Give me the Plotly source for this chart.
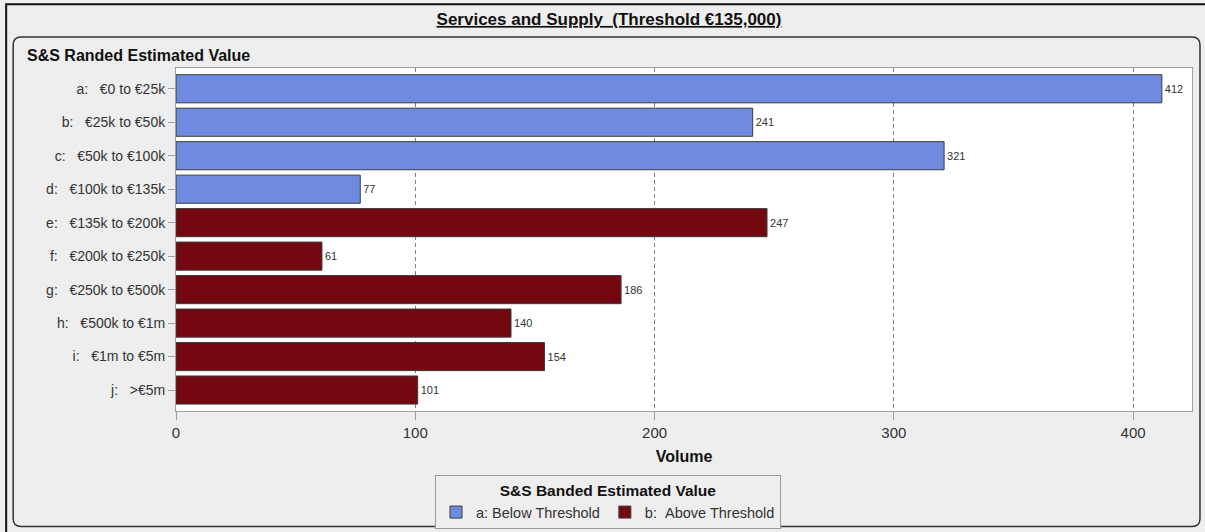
import plotly.graph_objects as go

NB = "\u00a0"
SP = NB * 3
below_cats = [f"a:{SP}€0 to €25k", f"b:{SP}€25k to €50k", f"c:{SP}€50k to €100k", f"d:{SP}€100k to €135k"]
below_vals = [412, 241, 321, 77]
above_cats = [f"e:{SP}€135k to €200k", f"f:{SP}€200k to €250k", f"g:{SP}€250k to €500k",
              f"h:{SP}€500k to €1m", f"i:{SP}€1m to €5m", f"j:{SP}>€5m"]
above_vals = [247, 61, 186, 140, 154, 101]
x_ticks = [0, 100, 200, 300, 400]

W, H = 1205, 532
L, R, T, B = 176, 1193, 68, 412

def px(p):
    return (p - L) / (R - L)

def py(p):
    return (B - p) / (B - T)

FONT = "Liberation Sans, Arial, sans-serif"

fig = go.Figure()
fig.add_trace(go.Bar(
    y=below_cats, x=below_vals, orientation="h", name="a: Below Threshold",
    marker=dict(color="#6E8BDF", line=dict(color="#3c3c3c", width=1)),
    width=0.84, text=below_vals, textposition="outside",
    textfont=dict(size=11, color="#333333", family=FONT), cliponaxis=False,
))
fig.add_trace(go.Bar(
    y=above_cats, x=above_vals, orientation="h", name=f"b:{NB}{NB}Above Threshold",
    marker=dict(color="#740811", line=dict(color="#3c3c3c", width=1)),
    width=0.84, text=above_vals, textposition="outside",
    textfont=dict(size=11, color="#333333", family=FONT), cliponaxis=False,
))

# rounded inner panel
x0, x1, y0, y1, r = 13, 1201, 37, 528, 8
def rounded_path(x0, x1, y0, y1, r):
    return (f"M {px(x0+r)},{py(y0)} L {px(x1-r)},{py(y0)} Q {px(x1)},{py(y0)} {px(x1)},{py(y0+r)} "
            f"L {px(x1)},{py(y1-r)} Q {px(x1)},{py(y1)} {px(x1-r)},{py(y1)} "
            f"L {px(x0+r)},{py(y1)} Q {px(x0)},{py(y1)} {px(x0)},{py(y1-r)} "
            f"L {px(x0)},{py(y0+r)} Q {px(x0)},{py(y0)} {px(x0+r)},{py(y0)} Z")

shapes = [
    dict(type="rect", xref="paper", yref="paper", x0=px(6), x1=px(1215), y0=py(4), y1=py(540),
         line=dict(color="#111111", width=2), layer="below"),
    dict(type="path", xref="paper", yref="paper", path=rounded_path(x0, x1, y0, y1, r),
         line=dict(color="#333333", width=1.5), layer="below"),
]

fig.update_layout(
    width=W, height=H,
    margin=dict(l=L, r=W - R, t=T, b=H - B, pad=0),
    paper_bgcolor="#EEEEEE", plot_bgcolor="#FFFFFF",
    barmode="relative",
    font=dict(family=FONT, size=14, color="#333333"),
    showlegend=True,
    shapes=shapes,
    title=dict(text=f"<b><u>Services and Supply {NB}(Threshold €135,000)</u></b>",
               xref="container", yref="container", x=609 / W, y=1 - 19 / H,
               xanchor="center", yanchor="middle",
               font=dict(size=17, color="#111111", family=FONT)),
    annotations=[dict(text="<b>S&S Randed Estimated Value</b>", xref="paper", yref="paper",
                      x=px(25), y=py(55), xanchor="left", yanchor="middle", showarrow=False,
                      font=dict(size=16, color="#111111", family=FONT))],
    legend=dict(
        orientation="h", xref="container", yref="container",
        x=608 / W, y=1 - 475 / H, xanchor="center", yanchor="top",
        bgcolor="#EEEEEE", bordercolor="#999999", borderwidth=1,
        font=dict(size=14.5, color="#333333", family=FONT),
        title=dict(text="<b>S&S Banded Estimated Value</b>", side="top center",
                   font=dict(size=15.5, color="#111111", family=FONT)),
        itemwidth=30, tracegroupgap=0, entrywidth=0,
    ),
    xaxis=dict(
        range=[0, 424.6], tickvals=x_ticks, ticktext=[str(v) for v in x_ticks],
        showgrid=True, gridcolor="#808080", griddash="4px,3px", gridwidth=1,
        zeroline=False, showline=True, linecolor="#A0A0A0", linewidth=1, mirror=True,
        ticks="outside", ticklen=8, tickcolor="#A0A0A0",
        tickfont=dict(size=15, color="#333333"),
        title=dict(text="<b>Volume</b>", font=dict(size=16, color="#111111"), standoff=11),
    ),
    yaxis=dict(
        categoryorder="array", categoryarray=below_cats + above_cats,
        range=[9.62, -0.62],
        showline=True, linecolor="#A0A0A0", linewidth=1, mirror=True,
        ticks="outside", ticklen=7, tickcolor="#A0A0A0", showgrid=False,
        tickfont=dict(size=14, color="#333333"),
    ),
)

fig.write_html("out.html", config={"displayModeBar": False},
               post_script="document.body.style.margin='0';document.body.style.overflow='hidden';")
